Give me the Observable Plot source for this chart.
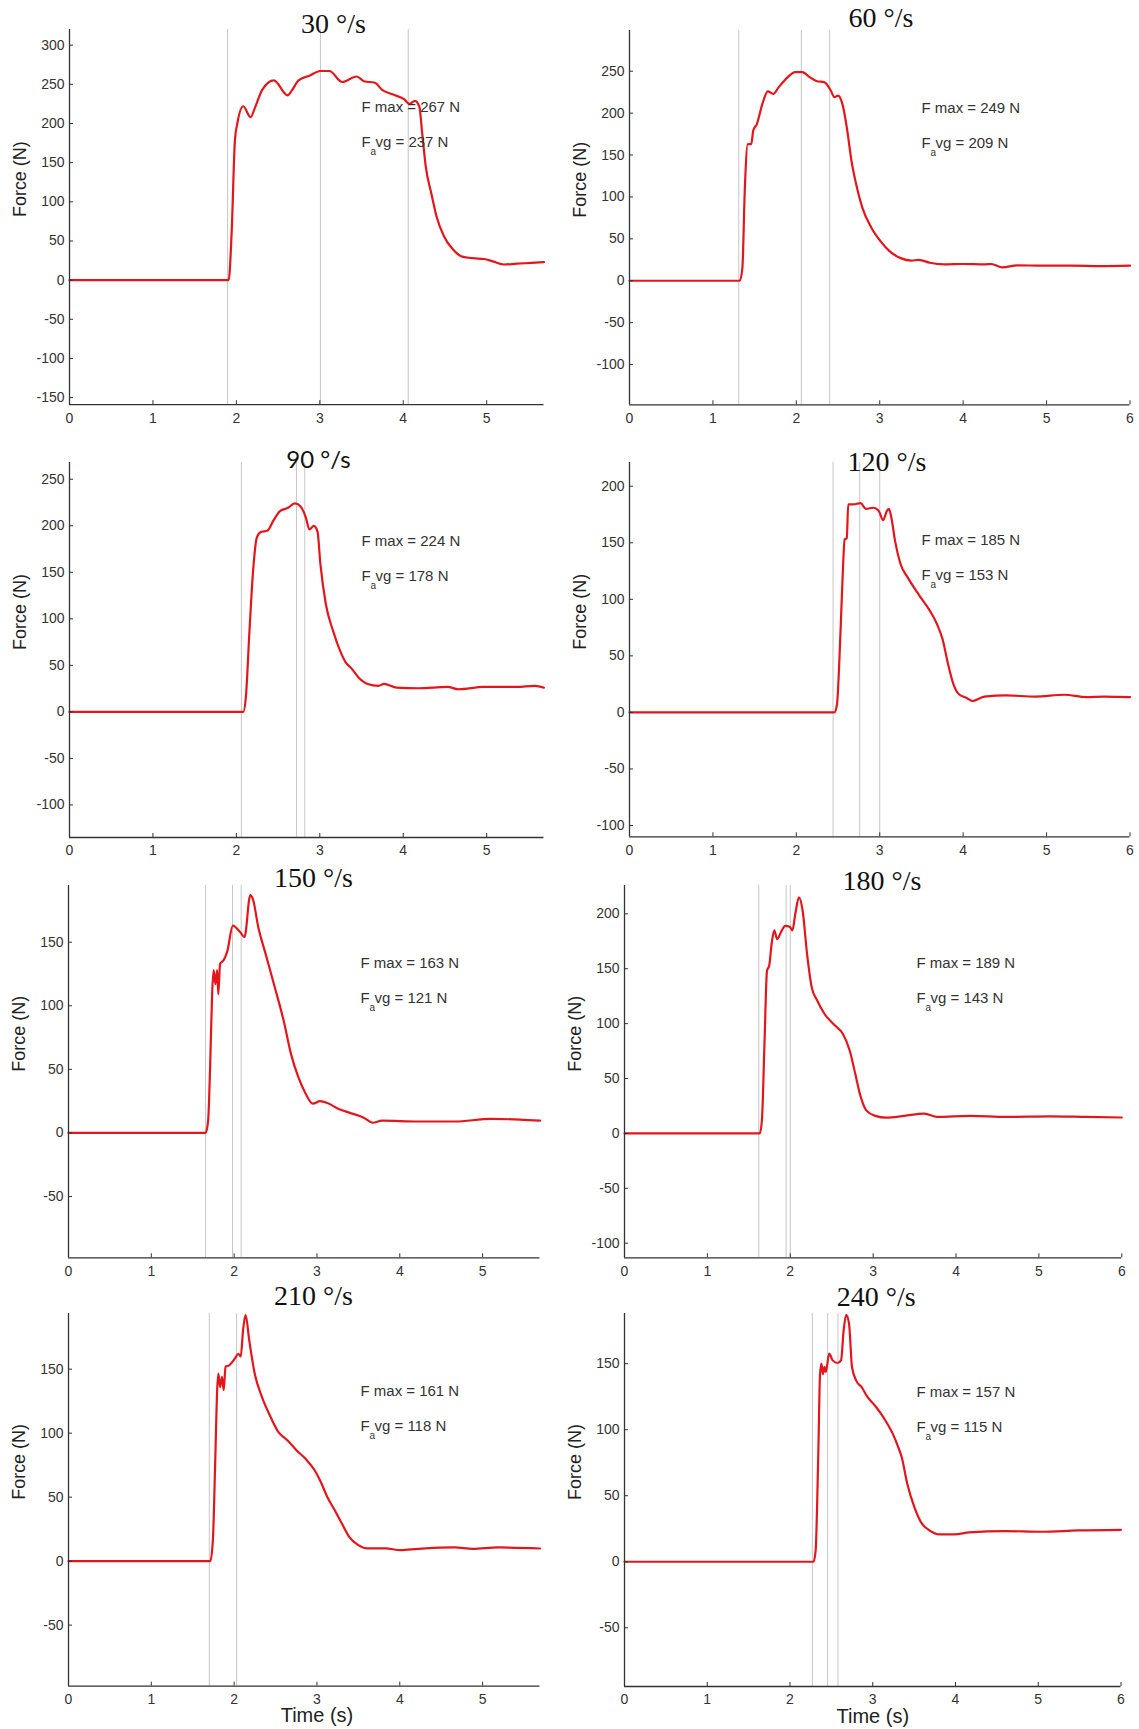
<!DOCTYPE html>
<html>
<head>
<meta charset="utf-8">
<script src="https://cdn.jsdelivr.net/npm/d3@7"></script>
<script src="https://cdn.jsdelivr.net/npm/@observablehq/plot@0.6"></script>
<style>
  body { margin: 0; background: #fff; }
  #wrap { position: relative; width: 1139px; height: 1729px; overflow: hidden; background: #fff; }
  #wrap svg { position: absolute; overflow: visible; }
</style>
</head>
<body>
<div id="wrap"></div>
<script>
// ---------- data ----------
const speeds = ["30 °/s", "60 °/s", "90 °/s", "120 °/s", "150 °/s", "180 °/s", "210 °/s", "240 °/s"];
const fMax = [267, 249, 224, 185, 163, 189, 161, 157];
const fAvg = [237, 209, 178, 153, 121, 143, 118, 115];

const time30  = [0, 1.908, 1.943, 1.983, 2.013, 2.083, 2.17, 2.222, 2.31, 2.449, 2.614, 2.658, 2.745, 2.876, 3.007, 3.115, 3.268, 3.442, 3.53, 3.66, 3.747, 3.878, 4.009, 4.074, 4.14, 4.192, 4.227, 4.27, 4.336, 4.40, 4.488, 4.597, 4.706, 4.837, 4.967, 5.076, 5.207, 5.36, 5.534, 5.686];
const force30 = [0, 0, 60, 179, 201, 222, 208, 220, 243, 255, 236, 241, 255, 261, 267, 267, 253, 260, 254, 252, 243, 237, 231, 225, 229, 222, 188, 145, 111, 81, 56, 39, 30, 28, 27, 24, 20, 21, 22, 23];

const time60  = [0, 1.322, 1.353, 1.383, 1.418, 1.46, 1.483, 1.527, 1.593, 1.658, 1.723, 1.789, 1.898, 1.985, 2.072, 2.16, 2.247, 2.334, 2.413, 2.456, 2.5, 2.552, 2.605, 2.661, 2.727, 2.792, 2.901, 3.011, 3.12, 3.25, 3.38, 3.469, 3.6, 3.774, 3.99, 4.254, 4.34, 4.47, 4.647, 4.95, 5.3, 5.65, 6];
const force60 = [0, 0, 15, 111, 163, 163, 179, 187, 211, 226, 223, 231, 243, 249, 249, 243, 238, 237, 227, 219, 221, 211, 183, 143, 111, 87, 63, 47, 35, 27, 24, 25, 21.5, 19.5, 20, 19.5, 20, 16, 18.4, 18, 18, 17.5, 18];

const time90  = [0, 2.083, 2.113, 2.157, 2.2, 2.244, 2.288, 2.375, 2.44, 2.527, 2.614, 2.7, 2.767, 2.832, 2.876, 2.928, 2.972, 3.007, 3.072, 3.159, 3.246, 3.312, 3.377, 3.464, 3.573, 3.704, 3.769, 3.922, 4.183, 4.532, 4.662, 4.967, 5.36, 5.578, 5.686];
const force90 = [0, 0, 15, 87, 151, 187, 193, 195, 205, 216, 219, 224, 221, 209, 196, 200, 194, 159, 116, 87, 65, 53, 47, 37, 30, 28, 30, 26, 25.4, 26.8, 24.3, 26.8, 26.8, 27.9, 26];

const time120  = [0, 2.456, 2.487, 2.53, 2.561, 2.579, 2.605, 2.622, 2.683, 2.77, 2.836, 2.923, 2.989, 3.04, 3.085, 3.11, 3.14, 3.185, 3.25, 3.338, 3.469, 3.6, 3.687, 3.752, 3.818, 3.883, 3.949, 4.036, 4.114, 4.254, 4.516, 4.865, 5.214, 5.476, 5.694, 6];
const force120 = [0, 0, 7, 72, 131, 153, 154, 184, 184, 185, 180, 181, 178, 170, 178, 180, 172, 151, 131, 119, 104, 90, 78, 65, 43, 25, 16, 13, 10, 14, 15, 14, 15.6, 13.5, 14, 13.5];

const time150  = [0, 1.655, 1.686, 1.712, 1.734, 1.752, 1.774, 1.795, 1.809, 1.83, 1.874, 1.918, 1.984, 2.072, 2.125, 2.195, 2.226, 2.291, 2.379, 2.489, 2.599, 2.687, 2.774, 2.862, 2.95, 3.038, 3.126, 3.257, 3.389, 3.565, 3.674, 3.784, 4.223, 4.662, 5.1, 5.452, 5.694];
const force150 = [0, 0, 9.7, 57, 109, 128, 117, 128, 109, 133, 136, 143, 163, 158, 154, 187, 184, 162, 141, 115, 88, 62, 44, 31, 23, 25, 23.5, 19, 16, 12, 8, 9.7, 9, 9, 11, 10.5, 9.7];

const time180  = [0, 1.632, 1.658, 1.689, 1.719, 1.746, 1.776, 1.807, 1.842, 1.886, 1.939, 1.996, 2.026, 2.061, 2.105, 2.149, 2.202, 2.259, 2.325, 2.412, 2.544, 2.632, 2.719, 2.785, 2.851, 2.917, 3.026, 3.158, 3.377, 3.618, 3.772, 4.167, 4.605, 5.132, 5.57, 6];
const force180 = [0, 0, 12, 82, 148, 153, 173, 185, 177, 183, 189, 188, 185, 200, 215, 203, 164, 133, 121, 109, 98, 91, 75, 54, 33, 21, 16, 14.3, 16, 18, 15, 16, 15, 15.5, 15, 14.5];

const time210  = [0, 1.712, 1.743, 1.773, 1.795, 1.809, 1.831, 1.853, 1.874, 1.896, 1.94, 2.006, 2.05, 2.08, 2.107, 2.138, 2.182, 2.248, 2.335, 2.423, 2.533, 2.643, 2.752, 2.862, 2.972, 3.038, 3.126, 3.213, 3.301, 3.389, 3.499, 3.608, 3.828, 4.004, 4.223, 4.662, 4.881, 5.189, 5.694];
const force210 = [0, 0, 16, 81.5, 133.6, 146.6, 136, 144, 133.6, 152, 153, 158, 162, 160, 180, 192.5, 172.7, 146.6, 128.4, 115, 101, 94.5, 86.7, 80, 71, 63, 50, 40, 29.4, 19, 12.5, 10, 10, 8.6, 9.6, 10.7, 9.6, 10.7, 9.9];

const time240  = [0, 2.284, 2.31, 2.341, 2.363, 2.38, 2.398, 2.416, 2.433, 2.473, 2.516, 2.574, 2.617, 2.648, 2.679, 2.714, 2.749, 2.802, 2.868, 2.934, 3.043, 3.153, 3.241, 3.307, 3.351, 3.417, 3.505, 3.592, 3.68, 3.812, 3.988, 4.163, 4.603, 5.042, 5.481, 6];
const force240 = [0, 0, 8.6, 79, 142, 150, 142, 147.5, 143.7, 157.6, 152.5, 150.5, 152.5, 175, 187, 180, 147.5, 137, 132, 125, 117, 107, 97, 87, 79, 59, 41, 29, 24, 20.7, 20.7, 22.2, 23.2, 22.7, 23.7, 24.2];

const markers30  = [1.895, 3.007, 4.06];
const markers60  = [1.31, 2.06, 2.40];
const markers90  = [2.06, 2.72, 2.82];
const markers120 = [2.44, 2.76, 3.00];
const markers150 = [1.655, 1.98, 2.085];
const markers180 = [1.62, 1.95, 2.00];
const markers210 = [1.70, 2.03];
const markers240 = [2.27, 2.455, 2.58];

const xTicks5 = [0, 1, 2, 3, 4, 5];
const xTicks6 = [0, 1, 2, 3, 4, 5, 6];
const yTicks30  = [-150, -100, -50, 0, 50, 100, 150, 200, 250, 300];
const yTicks60  = [-100, -50, 0, 50, 100, 150, 200, 250];
const yTicks90  = [-100, -50, 0, 50, 100, 150, 200, 250];
const yTicks120 = [-100, -50, 0, 50, 100, 150, 200];
const yTicks150 = [-50, 0, 50, 100, 150];
const yTicks180 = [-100, -50, 0, 50, 100, 150, 200];
const yTicks210 = [-50, 0, 50, 100, 150];
const yTicks240 = [-50, 0, 50, 100, 150];

const xMax = [5.687, 6, 5.687, 6, 5.693, 6, 5.693, 6];
const yDomains = [[-159, 320], [-148, 298.6], [-135, 268], [-110, 221], [-98.2, 194.6], [-113.3, 225.8], [-97.7, 193.5], [-94.5, 188]];

// ---------- layout (page pixels) ----------
const frames = [
  {left: 69, top: 29.3, right: 543.5, bottom: 404.5, tdx: 264, tdy: 3.7},
  {left: 628.5, top: 30, right: 1129, bottom: 404.3, tdx: 251.5, tdy: -3},
  {left: 69, top: 461.7, right: 543.5, bottom: 836.7, tdx: 249, tdy: 5.3},
  {left: 628.5, top: 461.7, right: 1129, bottom: 836, tdx: 257.5, tdy: 8.3},
  {left: 68.3, top: 885, right: 539.8, bottom: 1257.3, tdx: 245, tdy: 2},
  {left: 623.5, top: 885, right: 1120.8, bottom: 1257.3, tdx: 257.5, tdy: 5},
  {left: 68.3, top: 1313.3, right: 539.8, bottom: 1686, tdx: 245, tdy: -8.3},
  {left: 624.3, top: 1313, right: 1120.8, bottom: 1686, tdx: 251.7, tdy: -8}
];

const times = [time30, time60, time90, time120, time150, time180, time210, time240];
const forces = [force30, force60, force90, force120, force150, force180, force210, force240];
const markers = [markers30, markers60, markers90, markers120, markers150, markers180, markers210, markers240];
const yTicks = [yTicks30, yTicks60, yTicks90, yTicks120, yTicks150, yTicks180, yTicks210, yTicks240];
const xTicks = [xTicks5, xTicks6, xTicks5, xTicks6, xTicks5, xTicks6, xTicks5, xTicks6];

const ML = 70, MT = 40, MR = 15, MB = 48;
const sans = "'Liberation Sans', Arial, Helvetica, sans-serif";
const wrap = document.getElementById("wrap");

frames.forEach((fr, i) => {
  const W = fr.right - fr.left, H = fr.bottom - fr.top;
  const series = times[i].map((t, j) => ({t, f: forces[i][j]}));
  const yDom = yDomains[i];
  const isBottom = i >= 6;
  const marks = [
    Plot.ruleX(markers[i], {stroke: "#c6c6c6", strokeWidth: 1}),
    Plot.line(series, {x: "t", y: "f", stroke: "#e3161c", strokeWidth: 2.2, strokeLinejoin: "round", curve: "monotone-x"}),
    Plot.ruleY([yDom[0]], {stroke: "#333", strokeWidth: 1.3}),
    Plot.ruleX([0], {stroke: "#333", strokeWidth: 1.3}),
    Plot.ruleX(xTicks[i], {insetTop: H - 4, stroke: "#333", strokeWidth: 1}),
    Plot.ruleY(yTicks[i], {insetRight: W - 4, stroke: "#333", strokeWidth: 1}),
    Plot.axisX({ticks: xTicks[i], tickSize: 0, tickPadding: 8, tickFormat: d => String(d), fontSize: 14, fill: "#333", label: null}),
    Plot.axisY({ticks: yTicks[i], tickSize: 0, tickPadding: 5, tickFormat: d => String(d), fontSize: 14, fill: "#333", label: null}),
    Plot.text(["Force (N)"], {frameAnchor: "left", dx: -49, rotate: -90, fontSize: 18, fill: "#222", fontFamily: sans}),
    Plot.text([speeds[i]], {frameAnchor: "top-left", dx: fr.tdx, dy: fr.tdy, lineAnchor: "bottom", textAnchor: "middle",
      fontSize: i === 2 ? 24 : 28, fill: "#111",
      fontFamily: i === 2 ? "Lato, 'Open Sans', sans-serif" : "'Liberation Serif', 'Times New Roman', serif"}),
    Plot.text([`F max = ${fMax[i]} N`], {frameAnchor: "top-left", dx: 292, dy: 83, lineAnchor: "bottom", textAnchor: "start", fontSize: 15, fill: "#333", fontFamily: sans}),
    Plot.text(["F"], {frameAnchor: "top-left", dx: 292, dy: 118, lineAnchor: "bottom", textAnchor: "start", fontSize: 15, fill: "#333", fontFamily: sans}),
    Plot.text(["a"], {frameAnchor: "top-left", dx: 301, dy: 126, lineAnchor: "bottom", textAnchor: "start", fontSize: 10, fill: "#333", fontFamily: sans}),
    Plot.text([`vg = ${fAvg[i]} N`], {frameAnchor: "top-left", dx: 306, dy: 118, lineAnchor: "bottom", textAnchor: "start", fontSize: 15, fill: "#333", fontFamily: sans})
  ];
  if (isBottom) {
    marks.push(Plot.text(["Time (s)"], {x: 3, frameAnchor: "bottom", dy: 36, lineAnchor: "bottom", textAnchor: "middle", fontSize: 20, fill: "#222", fontFamily: sans}));
  }
  const chart = Plot.plot({
    width: W + ML + MR,
    height: H + MT + MB,
    marginLeft: ML, marginTop: MT, marginRight: MR, marginBottom: MB,
    style: {fontFamily: sans, background: "transparent", overflow: "visible"},
    x: {domain: [0, xMax[i]]},
    y: {domain: yDom},
    marks
  });
  chart.style.left = (fr.left - ML) + "px";
  chart.style.top = (fr.top - MT) + "px";
  wrap.appendChild(chart);
});
</script>
</body>
</html>
